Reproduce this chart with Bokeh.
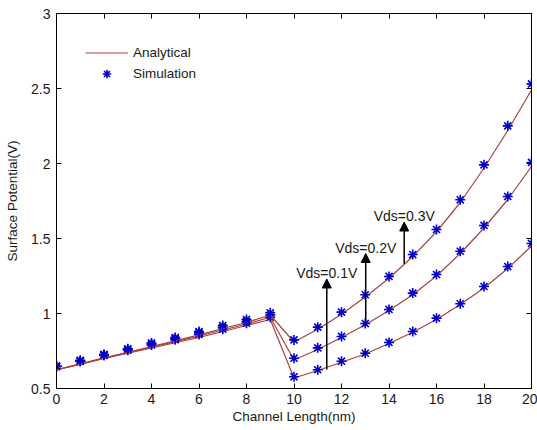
from bokeh.plotting import figure
from bokeh.models import (LinearAxis, FixedTicker, Arrow, NormalHead, Label,
                          Legend, LegendItem, Range1d)
from bokeh.embed import file_html
from bokeh.resources import INLINE

# Channel position (nm)
x_nm = list(range(0, 21))

# Analytical surface potential (V) for each drain bias
ana_01 = [0.625, 0.66, 0.70, 0.735, 0.77, 0.805, 0.84, 0.88, 0.92, 0.96,
          0.57, 0.62, 0.675, 0.73, 0.80, 0.875, 0.96, 1.06, 1.17, 1.30, 1.45]
ana_02 = [0.625, 0.662, 0.702, 0.738, 0.775, 0.812, 0.85, 0.89, 0.93, 0.975,
          0.69, 0.76, 0.84, 0.925, 1.02, 1.125, 1.25, 1.40, 1.57, 1.76, 1.98]
ana_03 = [0.625, 0.664, 0.704, 0.741, 0.78, 0.818, 0.858, 0.90, 0.94, 0.99,
          0.81, 0.895, 0.995, 1.11, 1.235, 1.38, 1.545, 1.74, 1.97, 2.22, 2.49]

# Simulated surface potential (V)
sim_01 = [0.645, 0.68, 0.72, 0.755, 0.79, 0.825, 0.86, 0.895, 0.935, 0.975,
          0.578, 0.625, 0.682, 0.735, 0.807, 0.88, 0.969, 1.065, 1.18, 1.313, 1.467]
sim_02 = [0.648, 0.684, 0.724, 0.76, 0.797, 0.833, 0.871, 0.908, 0.947, 0.99,
          0.702, 0.771, 0.847, 0.933, 1.027, 1.136, 1.26, 1.415, 1.587, 1.78, 2.007]
sim_03 = [0.651, 0.688, 0.728, 0.765, 0.803, 0.84, 0.88, 0.92, 0.96, 1.005,
          0.824, 0.909, 1.009, 1.125, 1.247, 1.393, 1.56, 1.758, 1.991, 2.251, 2.531]

# Bias annotations: label, arrow x, arrow start y, arrow end y
bias_labels = ["Vds=0.1V", "Vds=0.2V", "Vds=0.3V"]
arrow_x = [11.38, 13.02, 14.64]
arrow_y0 = [0.627, 0.942, 1.33]
arrow_y1 = [1.23, 1.40, 1.61]

x_ticks = [0, 2, 4, 6, 8, 10, 12, 14, 16, 18, 20]
y_ticks = [0.5, 1, 1.5, 2, 2.5, 3]

FONT = "Liberation Sans"
FS = "14px"
LINE_COLOR = "#aa4040"
MARK_COLOR = "#0000c8"

p = figure(width=537, height=430, output_backend="svg", toolbar_location=None,
           x_range=Range1d(0, 20), y_range=Range1d(0.5, 3),
           min_border_left=56, min_border_right=6, min_border_top=13,
           min_border_bottom=42)
p.background_fill_color = "white"
p.border_fill_color = "white"
p.outline_line_color = "black"
p.outline_line_width = 1
p.xgrid.visible = False
p.ygrid.visible = False

def style_axis(ax):
    ax.major_tick_in = 5
    ax.major_tick_out = 0
    ax.minor_tick_line_color = None
    ax.axis_line_color = "black"
    ax.major_tick_line_color = "black"
    ax.major_label_text_font = FONT
    ax.major_label_text_font_size = FS
    ax.major_label_text_color = "#1a1a1a"
    ax.axis_label_text_font = FONT
    ax.axis_label_text_font_size = "13.5px"
    ax.axis_label_text_font_style = "normal"
    ax.axis_label_text_color = "#1a1a1a"

p.xaxis.ticker = FixedTicker(ticks=x_ticks)
p.yaxis.ticker = FixedTicker(ticks=y_ticks)
p.xaxis.axis_label = "Channel Length(nm)"
p.yaxis.axis_label = "Surface Potential(V)"
style_axis(p.xaxis[0])
style_axis(p.yaxis[0])
p.xaxis.major_label_standoff = 5
p.yaxis.major_label_standoff = 6
p.xaxis.axis_label_standoff = 2
p.yaxis.axis_label_standoff = 8

# Mirror ticks on the top and right edges of the box, without labels
top_ax = LinearAxis(ticker=FixedTicker(ticks=x_ticks),
                    major_label_overrides={t: "" for t in x_ticks})
right_ax = LinearAxis(ticker=FixedTicker(ticks=y_ticks),
                      major_label_overrides={t: "" for t in y_ticks})
for ax in (top_ax, right_ax):
    style_axis(ax)
    ax.major_label_standoff = 0
p.add_layout(top_ax, "above")
p.add_layout(right_ax, "right")
p.min_border_top = 13
p.min_border_right = 6

line_renderers = []
mark_renderers = []
for ana, sim in [(ana_01, sim_01), (ana_02, sim_02), (ana_03, sim_03)]:
    line_renderers.append(p.line(x_nm, ana, line_color=LINE_COLOR, line_width=1.2))
    mark_renderers.append(p.scatter(x_nm, sim, marker="asterisk", size=10,
                                    line_color=MARK_COLOR, line_width=1.6))

head = dict(size=9, fill_color="black", line_color="black")
for lbl, ax_, y0, y1 in zip(bias_labels, arrow_x, arrow_y0, arrow_y1):
    p.add_layout(Arrow(end=NormalHead(**head), x_start=ax_, y_start=y0,
                       x_end=ax_, y_end=y1, line_color="black", line_width=1.5))
    p.add_layout(Label(x=ax_, y=y1, text=lbl, text_font=FONT,
                       text_font_size="14px", text_color="#1a1a1a",
                       text_align="center", text_baseline="bottom",
                       y_offset=-2))

legend = Legend(items=[LegendItem(label="Analytical", renderers=[line_renderers[0]]),
                       LegendItem(label="Simulation", renderers=[mark_renderers[0]])],
                location=(29, 304), border_line_color=None,
                background_fill_alpha=0, margin=0, padding=0,
                glyph_width=43, glyph_height=21, label_height=21,
                label_standoff=5, spacing=0,
                label_text_font=FONT, label_text_font_size="13.5px",
                label_text_color="#1a1a1a")
p.add_layout(legend, "center")

open("out.html", "w").write(file_html(p, INLINE))
